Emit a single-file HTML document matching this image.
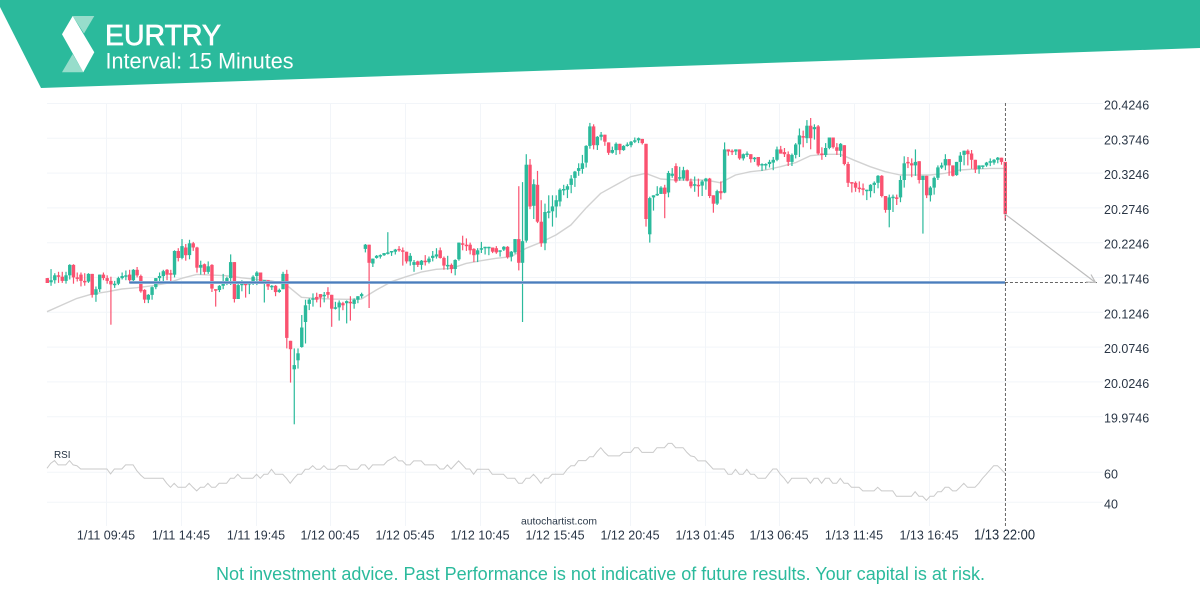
<!DOCTYPE html>
<html lang="en">
<head>
<meta charset="utf-8">
<title>EURTRY Interval: 15 Minutes</title>
<style>
html,body{margin:0;padding:0;background:#fff;width:1200px;height:600px;overflow:hidden}
svg{display:block;font-family:"Liberation Sans",sans-serif}
</style>
</head>
<body>
<svg id="chart" width="1200" height="600" viewBox="0 0 1200 600" xmlns="http://www.w3.org/2000/svg">
  <g id="grid"></g>
  <g id="ma"></g>
  <g id="candles"></g>
  <g id="rsi"></g>
  <g id="level"></g>
  <g id="axes"></g>

  <g>
    <polygon points="0,0 1200,0 1200,48 41,88 0,7" fill="#2bba9c"/>
    <polygon points="72.7,16 94.3,16 84,33.5" fill="#97ddcb"/>
    <polygon points="62,72.3 83.3,72.3 72.7,54" fill="#97ddcb"/>
    <polygon points="72.7,16 62,34.3 83.3,72.3 94.3,52.3" fill="#ffffff"/>
    <text x="105" y="45" font-size="29" font-weight="400" fill="#ffffff" stroke="#ffffff" stroke-width="0.7" textLength="116" lengthAdjust="spacingAndGlyphs">EURTRY</text>
    <text x="105.500" y="68.500" font-size="22" fill="#ffffff" textLength="188" lengthAdjust="spacingAndGlyphs">Interval: 15 Minutes</text>
  </g>

  <text x="54" y="458" font-size="10.500" fill="#1f2d3d" textLength="16.500" lengthAdjust="spacingAndGlyphs">RSI</text>
  <text x="521" y="524.500" font-size="10.500" fill="#2c3a4a" textLength="76" lengthAdjust="spacingAndGlyphs">autochartist.com</text>
  <text x="216" y="580" font-size="18" fill="#2bba9c" textLength="769" lengthAdjust="spacingAndGlyphs">Not investment advice. Past Performance is not indicative of future results. Your capital is at risk.</text>
</svg>

<script>
const opens=[20.173,20.167,20.170,20.177,20.175,20.169,20.177,20.192,20.174,20.178,
20.169,20.168,20.179,20.149,20.157,20.178,20.173,20.169,20.163,20.165,
20.173,20.176,20.178,20.170,20.185,20.176,20.156,20.142,20.149,20.160,
20.173,20.176,20.185,20.180,20.178,20.212,20.202,20.217,20.206,20.223,
20.217,20.188,20.193,20.182,20.192,20.157,20.156,20.162,20.167,20.173,
20.196,20.143,20.163,20.165,20.165,20.166,20.176,20.181,20.166,20.170,
20.161,20.162,20.153,20.157,20.179,20.083,20.042,20.055,20.074,20.110,
20.136,20.142,20.146,20.150,20.147,20.153,20.149,20.129,20.131,20.137,
20.137,20.139,20.136,20.142,20.147,20.215,20.221,20.194,20.202,20.205,
20.206,20.208,20.210,20.211,20.215,20.213,20.211,20.197,20.192,20.197,
20.192,20.198,20.196,20.202,20.204,20.213,20.202,20.191,20.192,20.186,
20.200,20.223,20.221,20.221,20.215,20.207,20.214,20.217,20.217,20.217,
20.216,20.211,20.214,20.218,20.204,20.210,20.229,20.195,20.227,20.336,
20.277,20.307,20.254,20.223,20.268,20.269,20.276,20.283,20.300,20.300,
20.307,20.317,20.327,20.330,20.339,20.363,20.391,20.364,20.376,20.379,
20.368,20.353,20.357,20.366,20.357,20.364,20.364,20.370,20.371,20.373,
20.366,20.236,20.289,20.292,20.294,20.303,20.296,20.320,20.334,20.316,
20.316,20.328,20.312,20.307,20.307,20.306,20.312,20.316,20.292,20.280,
20.298,20.296,20.358,20.356,20.355,20.358,20.345,20.351,20.351,20.344,
20.347,20.335,20.336,20.337,20.339,20.343,20.358,20.354,20.351,20.340,
20.350,20.365,20.377,20.374,20.392,20.387,20.391,20.352,20.350,20.360,
20.375,20.361,20.356,20.364,20.337,20.311,20.310,20.303,20.302,20.300,
20.298,20.307,20.310,20.320,20.291,20.271,20.289,20.289,20.289,20.314,
20.340,20.338,20.335,20.341,20.314,20.320,20.292,20.303,20.317,20.332,
20.335,20.344,20.335,20.321,20.340,20.350,20.356,20.352,20.343,20.330,
20.335,20.335,20.339,20.339,20.343,20.346,20.340];

const closes=[20.166,20.170,20.177,20.175,20.169,20.177,20.192,20.174,20.172,20.169,
20.168,20.179,20.149,20.157,20.178,20.173,20.169,20.164,20.165,20.173,
20.176,20.177,20.170,20.185,20.177,20.154,20.142,20.149,20.160,20.173,
20.176,20.183,20.178,20.178,20.212,20.202,20.219,20.206,20.223,20.217,
20.188,20.192,20.182,20.190,20.158,20.156,20.162,20.167,20.173,20.196,
20.143,20.163,20.165,20.163,20.166,20.175,20.181,20.168,20.170,20.161,
20.162,20.153,20.156,20.179,20.087,20.071,20.048,20.065,20.102,20.134,
20.142,20.144,20.142,20.145,20.149,20.149,20.129,20.131,20.138,20.134,
20.140,20.137,20.142,20.147,20.150,20.221,20.195,20.201,20.205,20.206,
20.209,20.210,20.212,20.214,20.213,20.211,20.197,20.205,20.196,20.192,
20.198,20.197,20.201,20.205,20.207,20.202,20.191,20.192,20.186,20.199,
20.224,20.221,20.219,20.213,20.206,20.213,20.216,20.218,20.218,20.211,
20.210,20.213,20.218,20.203,20.211,20.229,20.195,20.226,20.336,20.276,
20.308,20.254,20.223,20.268,20.269,20.276,20.285,20.300,20.301,20.305,
20.316,20.326,20.331,20.338,20.363,20.391,20.364,20.376,20.379,20.369,
20.353,20.357,20.366,20.357,20.363,20.365,20.369,20.371,20.374,20.367,
20.258,20.288,20.292,20.294,20.303,20.294,20.324,20.323,20.312,20.318,
20.328,20.313,20.305,20.308,20.306,20.312,20.316,20.291,20.280,20.298,
20.295,20.358,20.355,20.355,20.358,20.345,20.351,20.352,20.344,20.346,
20.335,20.337,20.337,20.340,20.343,20.358,20.352,20.351,20.340,20.350,
20.365,20.378,20.376,20.392,20.374,20.390,20.352,20.350,20.360,20.375,
20.361,20.356,20.366,20.337,20.310,20.310,20.303,20.301,20.301,20.300,
20.307,20.310,20.320,20.291,20.271,20.289,20.290,20.288,20.314,20.338,
20.339,20.335,20.340,20.314,20.320,20.292,20.303,20.317,20.332,20.335,
20.344,20.335,20.320,20.340,20.349,20.356,20.351,20.343,20.329,20.335,
20.335,20.339,20.341,20.343,20.346,20.340,20.265];

const highs=[20.173,20.186,20.180,20.182,20.182,20.182,20.193,20.193,20.181,20.181,
20.180,20.180,20.179,20.161,20.178,20.181,20.177,20.175,20.169,20.175,
20.181,20.184,20.185,20.186,20.189,20.178,20.157,20.150,20.161,20.173,
20.181,20.185,20.186,20.185,20.213,20.216,20.229,20.222,20.228,20.225,
20.218,20.198,20.194,20.197,20.193,20.157,20.163,20.179,20.175,20.207,
20.196,20.165,20.170,20.168,20.166,20.177,20.183,20.181,20.170,20.170,
20.163,20.163,20.158,20.182,20.185,20.083,20.072,20.072,20.120,20.142,
20.144,20.151,20.152,20.150,20.153,20.160,20.149,20.139,20.141,20.139,
20.141,20.147,20.144,20.147,20.152,20.222,20.221,20.201,20.206,20.207,
20.209,20.239,20.212,20.215,20.219,20.217,20.211,20.209,20.199,20.198,
20.199,20.206,20.204,20.212,20.216,20.217,20.204,20.205,20.194,20.200,
20.224,20.234,20.230,20.224,20.216,20.216,20.225,20.218,20.218,20.217,
20.219,20.213,20.219,20.219,20.212,20.229,20.305,20.311,20.351,20.344,
20.315,20.327,20.285,20.280,20.292,20.292,20.292,20.302,20.307,20.308,
20.321,20.327,20.338,20.350,20.364,20.396,20.394,20.377,20.383,20.379,
20.368,20.362,20.368,20.366,20.364,20.368,20.370,20.375,20.375,20.373,
20.366,20.290,20.292,20.305,20.305,20.307,20.327,20.331,20.338,20.333,
20.333,20.329,20.316,20.319,20.316,20.314,20.317,20.317,20.292,20.300,
20.312,20.368,20.358,20.358,20.358,20.358,20.352,20.355,20.351,20.347,
20.347,20.338,20.338,20.343,20.347,20.362,20.363,20.360,20.355,20.352,
20.367,20.388,20.385,20.400,20.403,20.394,20.393,20.361,20.367,20.375,
20.375,20.367,20.367,20.364,20.340,20.311,20.312,20.312,20.309,20.300,
20.308,20.312,20.321,20.321,20.291,20.293,20.293,20.293,20.320,20.348,
20.347,20.345,20.358,20.341,20.320,20.320,20.305,20.319,20.335,20.339,
20.351,20.344,20.335,20.340,20.354,20.356,20.358,20.357,20.343,20.335,
20.335,20.340,20.345,20.344,20.347,20.346,20.340];

const lows=[20.166,20.162,20.165,20.166,20.166,20.165,20.171,20.165,20.168,20.161,
20.162,20.166,20.145,20.139,20.153,20.170,20.165,20.106,20.159,20.163,
20.171,20.170,20.166,20.166,20.174,20.152,20.137,20.137,20.142,20.157,
20.168,20.165,20.170,20.165,20.174,20.197,20.200,20.198,20.200,20.212,
20.181,20.178,20.178,20.179,20.153,20.132,20.153,20.157,20.163,20.163,
20.138,20.143,20.154,20.145,20.150,20.163,20.163,20.166,20.138,20.156,
20.156,20.147,20.152,20.157,20.072,20.023,19.963,20.043,20.073,20.079,
20.127,20.132,20.138,20.131,20.138,20.144,20.103,20.128,20.112,20.127,
20.108,20.112,20.129,20.137,20.144,20.210,20.130,20.189,20.201,20.201,
20.205,20.207,20.205,20.207,20.211,20.191,20.194,20.191,20.182,20.189,
20.185,20.191,20.194,20.197,20.201,20.201,20.185,20.185,20.180,20.177,
20.198,20.213,20.212,20.207,20.196,20.196,20.209,20.207,20.206,20.209,
20.208,20.204,20.212,20.201,20.197,20.208,20.184,20.110,20.224,20.272,
20.258,20.252,20.218,20.213,20.259,20.247,20.260,20.276,20.292,20.288,
20.295,20.304,20.320,20.323,20.332,20.359,20.358,20.357,20.371,20.363,
20.350,20.352,20.350,20.351,20.356,20.362,20.361,20.367,20.367,20.365,
20.247,20.224,20.270,20.291,20.294,20.259,20.289,20.317,20.310,20.313,
20.313,20.312,20.302,20.297,20.290,20.291,20.300,20.288,20.267,20.278,
20.286,20.295,20.349,20.350,20.350,20.343,20.342,20.347,20.339,20.340,
20.333,20.327,20.329,20.332,20.328,20.341,20.352,20.347,20.334,20.334,
20.345,20.347,20.361,20.367,20.358,20.372,20.350,20.343,20.347,20.358,
20.359,20.350,20.347,20.335,20.304,20.296,20.297,20.296,20.292,20.285,
20.289,20.295,20.302,20.289,20.267,20.246,20.268,20.278,20.282,20.303,
20.331,20.318,20.320,20.309,20.237,20.288,20.283,20.293,20.314,20.330,
20.328,20.320,20.319,20.320,20.326,20.335,20.335,20.330,20.324,20.323,
20.330,20.333,20.334,20.336,20.338,20.336,20.256];

// Moving average, one reading every maStep candles
const maStep=4;
const maValues=[20.1247,20.1343,20.1439,20.1501,20.1534,20.1573,20.1592,20.1620,20.1655,20.1727,
20.1784,20.1774,20.1764,20.1735,20.1712,20.1692,20.1630,20.1454,20.1439,20.1429,
20.1425,20.1429,20.1559,20.1678,20.1750,20.1817,20.1856,20.1870,20.1942,20.1980,
20.2014,20.2037,20.2158,20.2244,20.2349,20.2493,20.2733,20.2948,20.3068,20.3187,
20.3236,20.3154,20.3139,20.3139,20.3139,20.3100,20.3211,20.3259,20.3283,20.3331,
20.3388,20.3489,20.3509,20.3509,20.3417,20.3331,20.3259,20.3211,20.3211,20.3211,
20.3236,20.3283,20.3297,20.3307,20.3307];

const rsiValues=[62.7,66,67.8,64.9,64.9,64.9,67.8,64.9,64.4,62.2,
62.2,62.2,62.2,62.2,62.2,62.2,62.2,58.9,62.2,62.2,
62.2,64.9,64.9,64.9,61.1,58.2,56,56,56,56,
56,56,52.7,50,52.7,50,50,50,52.7,50,
47.6,50,50,52.7,50,50,52.7,52.7,52.7,56,
56,58.7,56,56,56,56,58.7,56,58.7,58.7,
62,58.7,58.7,58.7,56,52.7,56,58.7,58.7,62,
62,64.4,62,62,64.4,62,62,62,64.4,64.4,
64.4,62,62,62,64.9,64.9,62,64.9,64.9,64.9,
64.9,67.6,68.9,70.4,67.6,67.6,64.9,64.9,67.6,67.6,
67.6,64.9,64.9,64.9,64.9,62.2,62.2,64.9,62.2,64.9,
67.6,64.9,62.2,62.2,58.7,62,62,62,62,58.7,
58.7,58.7,58.7,56,56,56,52.7,52.7,56,56,
58.7,56,52.7,56,56,58.7,58.7,58.7,58.7,62,
64.4,64.4,67.8,67.8,67.8,70.4,70.4,73.8,76.4,73.3,
70.9,70.9,70.9,70.9,73.3,73.3,73.3,76.4,76.4,73.3,
73.3,73.3,73.3,76.4,76.4,76.4,79.3,79.3,76.4,76.4,
76.4,73.3,70.9,70.4,67.6,67.6,67.6,64.9,62.2,62.2,
62.2,62.2,58.7,58.7,62,58.7,58.7,62,58.7,58.7,
56,56,56,59.3,62.2,62.2,58.7,56,52.7,56,
56,56,56,56,52.7,56,56,52.7,56,56,
52.7,52.7,56,52.7,52.7,50,50,50,47.6,47.6,
47.6,47.6,50,47.6,47.6,47.6,47.6,44,44,44,
44,44,47.1,44,44,41.3,44,44,47.1,47.1,
50,50,47.6,47.6,50,52.7,50,50,50,52.7,
56,58.7,61.6,64.4,64.4,62,59.3];

const priceTicks=[20.4246,20.3746,20.3246,20.2746,20.2246,20.1746,20.1246,20.0746,20.0246,19.9746];
const rsiTicks=[60,40];
const timeTickIndex=[16,36,56,76,96,116,136,156,176,196,216,236];
const timeTickLabels=["1/11 09:45","1/11 14:45","1/11 19:45","1/12 00:45","1/12 05:45","1/12 10:45","1/12 15:45","1/12 20:45","1/13 01:45","1/13 06:45","1/13 11:45","1/13 16:45"];
const lastTimeLabel="1/13 22:00";
const targetLevel=20.1667;
const levelStartIndex=22;

const NS="http://www.w3.org/2000/svg";
const xOf=i=>47+i*3.742;
const yOf=p=>103+(20.4246-p)*696;
const rsiY=r=>472.3+(60-r)*1.5;
const GREEN="#2bba9c",RED="#fa5270";
const lastIdx=closes.length-1;

function mk(parent,tag,attrs,text){
  const el=document.createElementNS(NS,tag);
  for(const k in attrs)el.setAttribute(k,attrs[k]);
  if(text!==undefined)el.textContent=text;
  document.getElementById(parent).appendChild(el);
  return el;
}

// Grid
priceTicks.forEach(p=>{
  const el=mk("grid","line",{x1:47,x2:1103,y1:yOf(p)+.5,y2:yOf(p)+.5,stroke:"#f2f5f9","stroke-width":1});
  
  
});
rsiTicks.forEach(r=>{
  const el=mk("grid","line",{x1:47,x2:1103,y1:rsiY(r),y2:rsiY(r),stroke:"#f2f5f9","stroke-width":1});
  
  
});
timeTickIndex.forEach(i=>{
  const x=Math.round(xOf(i))-.5;
  const el=mk("grid","line",{x1:x,x2:x,y1:103,y2:526,stroke:"#f2f5f9","stroke-width":1});
  
  
});

// Moving average
const maPath=mk("ma","polyline",{
  points:maValues.map((v,k)=>xOf(k*maStep).toFixed(1)+","+yOf(v).toFixed(1)).join(" "),
  fill:"none",stroke:"#d2d2d2","stroke-width":1.4,"stroke-linejoin":"round"
});



// Candles
closes.forEach((c,i)=>{
  const o=opens[i];
  const color=c<o?RED:GREEN;
  const cx=xOf(i)+.3;
  const top=yOf(Math.max(o,c)),bot=yOf(Math.min(o,c));
  const wick=mk("candles","rect",{x:(cx-.6).toFixed(2),y:yOf(highs[i]).toFixed(1),width:1.2,height:(yOf(lows[i])-yOf(highs[i])).toFixed(1),fill:color});
  
  
  const body=mk("candles","rect",{x:(cx-1.7).toFixed(2),y:top.toFixed(1),width:3.4,height:Math.max(bot-top,1.5).toFixed(1),fill:color});
  
  
});

// RSI
const rsiLine=mk("rsi","polyline",{
  points:rsiValues.map((v,i)=>xOf(i).toFixed(1)+","+rsiY(v).toFixed(1)).join(" "),
  fill:"none",stroke:"#cacaca","stroke-width":1
});



// Target level, end marker and projection arrow
const ly=Math.round(yOf(targetLevel))+.5;
const lastX=xOf(lastIdx);
const levelHalo=mk("level","line",{x1:xOf(levelStartIndex),x2:lastX,y1:ly,y2:ly,stroke:"#a9c2e0","stroke-width":3});


const levelLine=mk("level","line",{x1:xOf(levelStartIndex),x2:lastX,y1:ly,y2:ly,stroke:"#4a7dbd","stroke-width":1.8});


const levelExt=mk("level","line",{x1:lastX,x2:1097,y1:ly,y2:ly,stroke:"#666","stroke-width":1,"stroke-dasharray":"3 2"});


const endLine=mk("level","line",{x1:lastX+.5,x2:lastX+.5,y1:103,y2:526,stroke:"#666","stroke-width":1,"stroke-dasharray":"3 2"});


const ax=lastX,ay=yOf(closes[lastIdx]),tx=1095.5,ty=ly;
const arrow=mk("level","line",{x1:ax,y1:ay,x2:tx,y2:ty,stroke:"#bdbdbd","stroke-width":1.2});


const head=mk("level","polyline",{points:(tx-9.5)+","+(ty-.5)+" "+tx+","+ty+" "+(tx-4.5)+","+(ty-8),fill:"none",stroke:"#bdbdbd","stroke-width":1.2});



// Axis labels
priceTicks.forEach(p=>{
  const el=mk("axes","text",{x:1104,y:yOf(p)+6.5,"font-size":12.5,fill:"#2a3646"},p.toFixed(4));
  
  
});
rsiTicks.forEach(r=>{
  const el=mk("axes","text",{x:1104,y:rsiY(r)+6,"font-size":12.5,fill:"#2a3646"},String(r));
  
  
});
timeTickIndex.forEach((i,k)=>{
  const el=mk("axes","text",{x:Math.round(xOf(i))-1,y:539.5,"font-size":12.5,fill:"#2a3646","text-anchor":"middle"},timeTickLabels[k]);
  
  
});
const lastLabel=mk("axes","text",{x:974,y:539.5,"font-size":14.5,fill:"#1f2d3d",textLength:61,lengthAdjust:"spacingAndGlyphs"},lastTimeLabel);


</script>
</body>
</html>
